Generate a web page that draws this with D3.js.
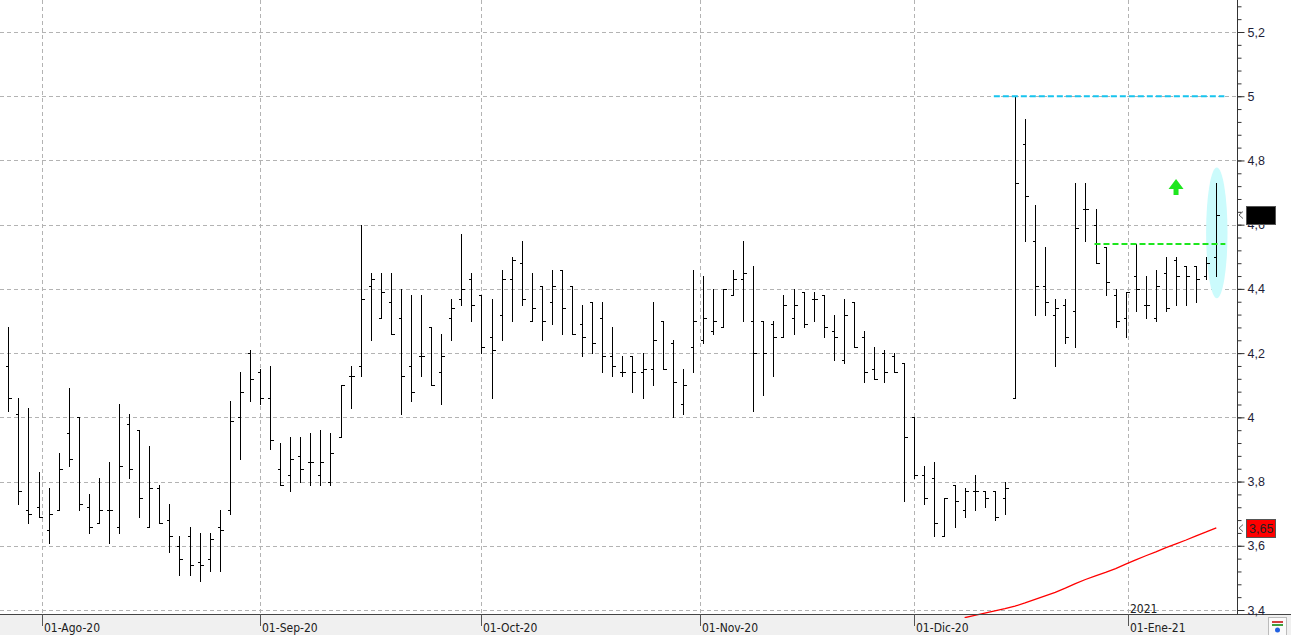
<!DOCTYPE html>
<html lang="es">
<head>
<meta charset="utf-8">
<title>OHLC</title>
<script src="https://cdn.jsdelivr.net/npm/d3@7"></script>
<style>
  html, body { margin: 0; padding: 0; background: #fff; }
  svg { display: block; }
  .ylab { font-family: "Liberation Sans", Arial, sans-serif; font-size: 12.5px; fill: #1e1e38; }
  .xlab { font-family: "DejaVu Sans Condensed", "DejaVu Sans", sans-serif; font-size: 12px; fill: #202020; }
</style>
</head>
<body>
<script>
// daily bars, 28-Jul-2020 .. 14-Jan-2021
var open  = [4.16,4.01,3.71,3.72,3.65,3.71,3.95,4.00,3.72,3.67,3.71,3.66,3.98,3.96,3.66,3.78,3.68,3.60,3.63,3.55,
             3.56,3.66,3.71,4.00,4.20,4.14,4.06,3.84,3.82,3.88,3.86,3.82,3.80,3.94,4.13,4.16,4.41,4.31,4.36,4.31,
             4.16,4.19,4.28,4.14,4.31,4.37,4.43,4.38,4.25,4.32,4.43,4.48,4.30,4.41,4.36,4.46,4.41,4.29,4.36,4.31,
             4.19,4.14,4.19,4.14,4.15,4.30,4.23,4.04,4.22,4.24,4.27,4.28,4.38,4.43,4.30,4.30,4.29,4.25,4.31,4.39,
             4.37,4.38,4.27,4.18,4.36,4.25,4.15,4.20,4.19,4.17,4.00,3.82,3.81,3.63,3.79,3.71,3.77,3.77,3.77,3.75,
             4.06,4.85,4.55,4.41,4.32,4.35,4.33,4.65,4.60,4.53,4.38,4.31,4.44,4.35,4.31,4.45,4.49,4.47,4.47,4.44,
             4.50];
var high  = [4.28,4.06,4.03,3.83,3.78,3.89,4.09,4.00,3.76,3.81,3.86,4.04,4.01,3.96,3.91,3.79,3.73,3.63,3.66,3.64,
             3.64,3.71,4.05,4.14,4.21,4.15,4.16,3.92,3.94,3.94,3.95,3.96,3.95,4.10,4.16,4.60,4.45,4.45,4.45,4.40,
             4.38,4.38,4.28,4.26,4.37,4.57,4.45,4.38,4.37,4.46,4.50,4.55,4.45,4.41,4.46,4.46,4.41,4.35,4.36,4.36,
             4.28,4.19,4.19,4.20,4.36,4.30,4.24,4.15,4.46,4.44,4.40,4.40,4.46,4.55,4.47,4.30,4.30,4.38,4.40,4.39,
             4.39,4.38,4.32,4.37,4.36,4.27,4.22,4.21,4.20,4.17,4.00,3.85,3.86,3.75,3.79,3.78,3.82,3.77,3.77,3.80,
             5.00,4.93,4.66,4.53,4.37,4.37,4.73,4.73,4.65,4.53,4.40,4.39,4.54,4.44,4.46,4.50,4.50,4.47,4.47,4.50,
             4.73];
var low   = [4.02,3.73,3.67,3.69,3.61,3.71,3.85,3.71,3.64,3.67,3.61,3.64,3.81,3.69,3.66,3.67,3.58,3.51,3.51,3.49,
             3.52,3.52,3.70,3.87,4.05,4.04,3.90,3.79,3.77,3.80,3.79,3.79,3.79,3.94,4.03,4.13,4.24,4.31,4.26,4.01,
             4.05,4.13,4.10,4.04,4.24,4.35,4.30,4.20,4.06,4.24,4.30,4.35,4.30,4.24,4.29,4.26,4.26,4.19,4.20,4.14,
             4.13,4.13,4.08,4.06,4.10,4.15,4.00,4.01,4.14,4.23,4.26,4.28,4.38,4.30,4.02,4.07,4.13,4.25,4.26,4.28,
             4.30,4.25,4.18,4.17,4.22,4.11,4.12,4.11,4.14,3.74,3.81,3.73,3.63,3.63,3.66,3.69,3.71,3.72,3.68,3.70,
             4.06,4.55,4.32,4.32,4.16,4.23,4.22,4.55,4.48,4.38,4.28,4.25,4.33,4.31,4.30,4.33,4.35,4.35,4.36,4.43,
             4.44];
var close = [4.06,3.77,3.70,3.69,3.70,3.84,3.87,3.73,3.66,3.71,3.71,3.85,3.84,3.75,3.78,3.67,3.63,3.56,3.54,3.54,
             3.62,3.65,3.99,4.08,4.12,4.06,3.93,3.79,3.87,3.84,3.86,3.86,3.89,4.10,4.13,4.37,4.43,4.39,4.26,4.13,
             4.08,4.19,4.10,4.19,4.34,4.40,4.35,4.22,4.21,4.43,4.49,4.37,4.34,4.30,4.41,4.34,4.26,4.25,4.23,4.19,
             4.16,4.14,4.14,4.15,4.24,4.15,4.11,4.10,4.30,4.31,4.30,4.40,4.43,4.45,4.20,4.20,4.25,4.35,4.35,4.29,
             4.37,4.28,4.25,4.32,4.22,4.14,4.12,4.14,4.14,3.94,3.82,3.75,3.67,3.75,3.74,3.77,3.77,3.75,3.69,3.78,
             4.73,4.69,4.41,4.36,4.34,4.25,4.59,4.65,4.48,4.42,4.30,4.39,4.40,4.35,4.41,4.34,4.44,4.44,4.43,4.48,
             4.63];

// moving average (red), from bar 95 to the last bar
var maStart = 95;
var maValues = [3.376,3.383,3.390,3.397,3.404,3.412,3.422,3.433,3.444,3.455,3.468,3.482,3.495,
                3.506,3.517,3.529,3.543,3.556,3.569,3.581,3.594,3.606,3.618,3.631,3.643,3.656];

var yTicks = [3.4, 3.6, 3.8, 4.0, 4.2, 4.4, 4.6, 4.8, 5.0, 5.2];
var monthDates  = [new Date(2020,7,1), new Date(2020,8,1), new Date(2020,9,1),
                   new Date(2020,10,1), new Date(2020,11,1), new Date(2021,0,1)];
var monthLabels = ["01-Ago-20", "01-Sep-20", "01-Oct-20", "01-Nov-20", "01-Dic-20", "01-Ene-21"];
var yearLabel = "2021";

// drawn levels (bar-index range)
var resistance = { value: 5.0, from: 97.9, to: 120.8 };
var support    = { value: 4.54, from: 107.9, to: 120.9 };
var lastMarker = { value: 4.63 };
var maMarker   = { value: 3.655, text: "3,65" };

//// trading days (no weekends, market holidays)
var holidays = ["2020-12-25", "2021-01-01"];
var dates = [];
var dd = new Date(2020, 6, 28);
while (dates.length < close.length) {
  var key = d3.timeFormat("%Y-%m-%d")(dd);
  if (dd.getDay() != 0 && dd.getDay() != 6 && holidays.indexOf(key) < 0) dates.push(new Date(dd));
  dd = d3.timeDay.offset(dd, 1);
}
function dateIndex(t) {
  for (var k = 0; k < dates.length - 1; k++) {
    if (dates[k] <= t && t < dates[k + 1]) return k + (t - dates[k]) / (dates[k + 1] - dates[k]);
  }
  return dates.length - 1;
}

var w = 1291, h = 635;
var plotRight = 1237, plotBottom = 614;

var svg = d3.select("body").append("svg").attr("width", w).attr("height", h);

var x = d3.scaleLinear().domain([0, close.length - 1]).range([8.3, 1216.3]);
var y = d3.scaleLinear().domain([3.4, 5.2]).range([610, 32]);

var loc = d3.formatLocale({ decimal: ",", thousands: ".", grouping: [3], currency: ["", "€"] });
var fmt = loc.format(".1~f");

//// bottom band
svg.append("rect").attr("x", 0).attr("y", plotBottom).attr("width", w).attr("height", h - plotBottom)
  .attr("fill", "#f0f0f0");

//// grid
var grid = svg.append("g").attr("stroke", "#b3b3b3").attr("stroke-dasharray", "4,3").attr("shape-rendering", "crispEdges");
grid.selectAll("line.h").data(yTicks).enter().append("line")
  .attr("x1", 0).attr("x2", plotRight)
  .attr("y1", function(d) { return Math.round(y(d)) + 0.5; })
  .attr("y2", function(d) { return Math.round(y(d)) + 0.5; });
grid.selectAll("line.v").data(monthDates).enter().append("line")
  .attr("x1", function(d) { return Math.round(x(dateIndex(d))) + 0.5; })
  .attr("x2", function(d) { return Math.round(x(dateIndex(d))) + 0.5; })
  .attr("y1", 0).attr("y2", plotBottom);

//// ellipse around the last bar
var last = close.length - 1;
svg.append("ellipse")
  .attr("cx", x(last) + 0.5)
  .attr("cy", (y(4.371) + y(4.778)) / 2)
  .attr("rx", 10.7)
  .attr("ry", (y(4.371) - y(4.778)) / 2)
  .attr("fill", "#cbfbfc");

//// clip
svg.append("clipPath").attr("id", "plot").append("rect")
  .attr("x", 0).attr("y", 0).attr("width", plotRight).attr("height", plotBottom + 4);

//// moving average
var maLine = d3.line()
  .x(function(d, i) { return x(maStart + i); })
  .y(function(d) { return y(d); });
svg.append("path").datum(maValues)
  .attr("clip-path", "url(#plot)")
  .attr("d", maLine)
  .attr("fill", "none").attr("stroke", "#ff0000").attr("stroke-width", 1.3);

//// OHLC bars
var bars = svg.append("g").attr("stroke", "#000").attr("stroke-width", 1).attr("shape-rendering", "crispEdges");
var idx = d3.range(close.length);
function bx(i) { return Math.round(x(i)) + 0.5; }
bars.selectAll("line.hl").data(idx).enter().append("line")
  .attr("x1", bx).attr("x2", bx)
  .attr("y1", function(i) { return Math.round(y(high[i])); })
  .attr("y2", function(i) { return Math.round(y(low[i])) + 1; });
bars.selectAll("line.o").data(idx).enter().append("line")
  .attr("x1", function(i) { return bx(i) - 3; }).attr("x2", bx)
  .attr("y1", function(i) { return Math.round(y(open[i])) + 0.5; })
  .attr("y2", function(i) { return Math.round(y(open[i])) + 0.5; });
bars.selectAll("line.c").data(idx).enter().append("line")
  .attr("x1", bx).attr("x2", function(i) { return bx(i) + 3; })
  .attr("y1", function(i) { return Math.round(y(close[i])) + 0.5; })
  .attr("y2", function(i) { return Math.round(y(close[i])) + 0.5; });

//// levels
svg.append("line")
  .attr("x1", x(resistance.from)).attr("x2", x(resistance.to))
  .attr("y1", y(resistance.value)).attr("y2", y(resistance.value))
  .attr("stroke", "#17c4ee").attr("stroke-width", 2).attr("stroke-dasharray", "6,3");
svg.append("line")
  .attr("x1", x(support.from)).attr("x2", x(support.to))
  .attr("y1", y(support.value)).attr("y2", y(support.value))
  .attr("stroke", "#1ee61e").attr("stroke-width", 2).attr("stroke-dasharray", "6,3");

//// green arrow
var ax = x(116.0), ay = y(4.742);
svg.append("path")
  .attr("d", "M" + ax + "," + ay + " l7.5,10 h-5 v6 h-5 v-6 h-5 z")
  .attr("fill", "#1ee61e");

//// x axis
svg.append("line").attr("x1", 0).attr("x2", w).attr("y1", plotBottom + 0.5).attr("y2", plotBottom + 0.5)
  .attr("stroke", "#444");
var xt = svg.append("g");
xt.selectAll("line").data(monthDates).enter().append("line")
  .attr("x1", function(d) { return Math.round(x(dateIndex(d))) + 0.5; })
  .attr("x2", function(d) { return Math.round(x(dateIndex(d))) + 0.5; })
  .attr("y1", plotBottom).attr("y2", plotBottom + 12)
  .attr("stroke", "#555");
xt.selectAll("text").data(monthDates).enter().append("text")
  .attr("class", "xlab")
  .attr("x", function(d) { return Math.round(x(dateIndex(d))) + 2; })
  .attr("y", 632)
  .text(function(d, i) { return monthLabels[i]; });
svg.append("text").attr("class", "xlab")
  .attr("x", Math.round(x(dateIndex(monthDates[5]))) + 2)
  .attr("y", 613)
  .text(yearLabel);

//// y axis (right)
var minor = d3.range(3.40, 5.30, 0.04).filter(function(v) { return y(v) >= 0 && y(v) <= plotBottom; });
svg.append("g").attr("transform", "translate(" + (plotRight + 0.5) + ",0)")
  .call(d3.axisRight(y).tickValues(minor).tickSize(4).tickFormat(""))
  .call(function(g) { g.select(".domain").remove(); })
  .selectAll("line").attr("stroke", "#333");
svg.append("g").attr("transform", "translate(" + (plotRight + 0.5) + ",0)")
  .call(d3.axisRight(y).tickValues(yTicks).tickSize(7).tickPadding(3).tickFormat(fmt))
  .call(function(g) {
    g.select(".domain").remove();
    g.selectAll("line").attr("stroke", "#333");
    g.selectAll("text").attr("class", "ylab").attr("font-family", null).attr("font-size", null).attr("fill", null);
  });
svg.append("line").attr("x1", plotRight + 0.5).attr("x2", plotRight + 0.5).attr("y1", 0).attr("y2", plotBottom)
  .attr("stroke", "#333");

//// price markers
function marker(m, fill, textFill) {
  var cy = y(m.value);
  svg.append("path")
    .attr("d", "M" + (plotRight + 6) + "," + (cy - 3.5) + " L" + (plotRight + 2) + "," + cy + " L" + (plotRight + 6) + "," + (cy + 3.5))
    .attr("fill", "none").attr("stroke", "#666");
  svg.append("rect").attr("x", 1246.5).attr("y", Math.round(cy - 9) + 0.5).attr("width", 29).attr("height", 18)
    .attr("fill", fill).attr("stroke", "#555");
  if (m.text) {
    svg.append("text").attr("class", "ylab").attr("x", 1249).attr("y", cy + 4.5)
      .style("fill", textFill).text(m.text);
  }
}
marker(lastMarker, "#000", "#000");
marker(maMarker, "#ff0000", "#222");

//// corner icon
var ic = svg.append("g").attr("transform", "translate(1268,617)");
ic.append("rect").attr("x", 0.5).attr("y", 0.5).attr("width", 18).attr("height", 18).attr("fill", "#fafafa").attr("stroke", "#bbb");
ic.append("rect").attr("x", 4).attr("y", 4).attr("width", 11).attr("height", 2).attr("fill", "#d04040");
ic.append("rect").attr("x", 4).attr("y", 7).attr("width", 11).attr("height", 2).attr("fill", "#40a040");
ic.append("circle").attr("cx", 9.5).attr("cy", 13).attr("r", 2.5).attr("fill", "#2060e0");
</script>
</body>
</html>
